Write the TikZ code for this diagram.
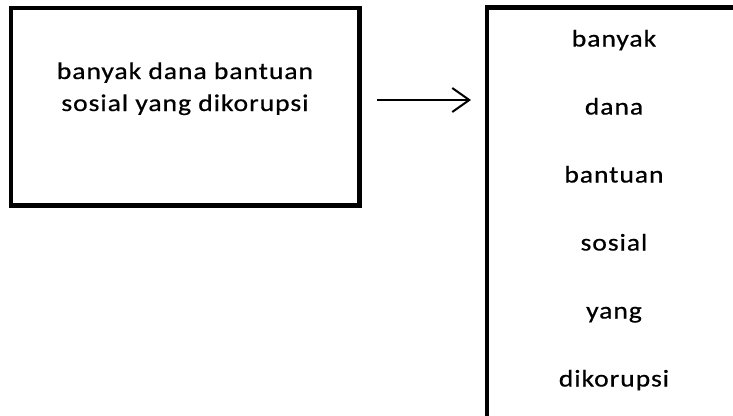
\documentclass[tikz,border=0pt]{standalone}
\usepackage{fontspec}
\setmainfont{Carlito}[FakeStretch=1.15,LetterSpace=4,FakeBold=0.6]
\usetikzlibrary{arrows.meta}
\begin{document}
\begin{tikzpicture}[x=1pt,y=-1pt,
  box/.style={draw=black,line width=4.5pt,rectangle,inner sep=0pt,outer sep=0pt},
  txt/.style={anchor=base,inner sep=0pt,font=\fontsize{24}{32}\selectfont},
  arr/.style={line width=2pt,-{Straight Barb[length=17pt,width=24pt,line width=2pt]}}]
\useasboundingbox (0,0) rectangle (733,415);
\clip (0,0) rectangle (733,415);
\fill[white] (0,0) rectangle (733,415);
\node[box,minimum width=348.5pt,minimum height=197.5pt] (L) at (185.25,106.75) {};
\node[box,minimum width=260pt,minimum height=440pt] (R) at (617,227.5) {};
\node[txt] (L1) at (185,79) {banyak dana bantuan};
\node[txt] (L2) at (185,111) {sosial yang dikorupsi};
\node[txt] (R1) at (614,46.5) {banyak};
\node[txt] (R2) at (614,114.5) {dana};
\node[txt] (R3) at (614,182.5) {bantuan};
\node[txt] (R4) at (614,250.5) {sosial};
\node[txt] (R5) at (614,318.5) {yang};
\node[txt] (R6) at (614,386.5) {dikorupsi};
\coordinate (A1) at (377,100);
\coordinate (A2) at (471,100);
\draw[arr] (A1) -- (A2);
\end{tikzpicture}
\end{document}
